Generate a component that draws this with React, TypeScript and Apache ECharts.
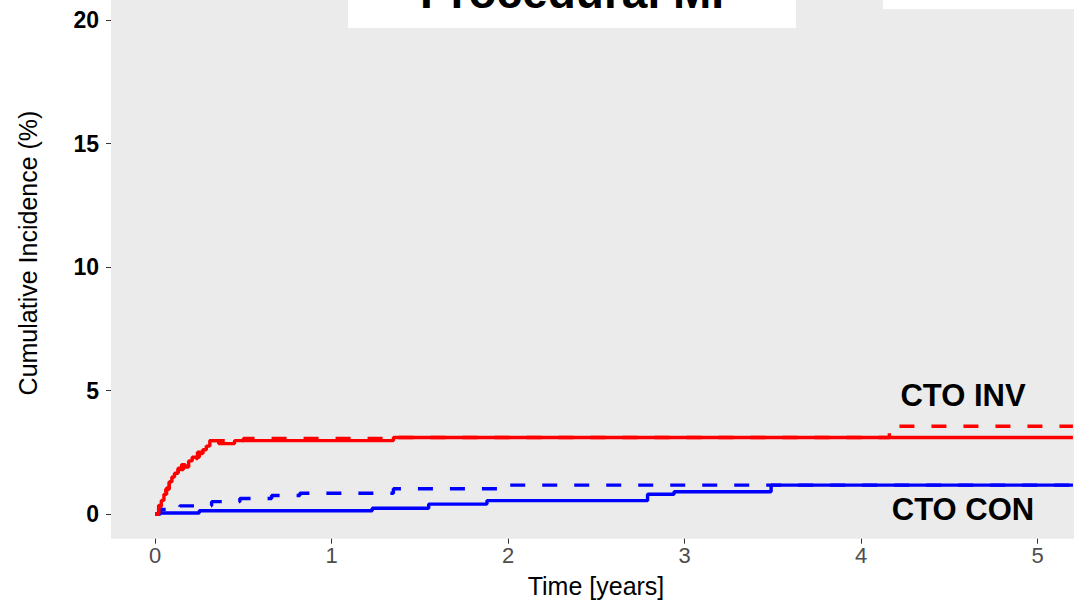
import React, { useEffect, useRef } from "react";
import * as echarts from "echarts";

// Time points (years) and cumulative incidence (%)
const invSolidT = [0, 0.02, 0.035, 0.05, 0.065, 0.08, 0.095, 0.11, 0.13, 0.15, 0.17, 0.19, 0.21, 0.23, 0.25, 0.27, 0.29, 0.31, 0.36, 0.45, 1.35, 5.2];
const invSolidV = [0, 0.3, 0.55, 0.8, 1.05, 1.3, 1.5, 1.65, 1.85, 2.0, 1.9, 2.15, 2.3, 2.3, 2.45, 2.6, 2.75, 2.97, 2.85, 2.97, 3.1, 3.1];

const invDashT = [0, 0.02, 0.04, 0.06, 0.08, 0.1, 0.13, 0.16, 0.2, 0.24, 0.28, 0.31, 0.5, 1.35, 4.16, 5.2];
const invDashV = [0, 0.35, 0.7, 1.0, 1.3, 1.55, 1.8, 2.0, 2.25, 2.5, 2.75, 2.97, 3.06, 3.1, 3.55, 3.55];

const conSolidT = [0, 0.02, 0.25, 1.23, 1.55, 1.88, 2.79, 2.94, 3.49, 5.2];
const conSolidV = [0, 0.04, 0.13, 0.23, 0.4, 0.54, 0.8, 0.9, 1.17, 1.17];

const conDashT = [0, 0.03, 0.14, 0.32, 0.48, 0.66, 0.82, 1.35, 2.0, 5.2];
const conDashV = [0, 0.18, 0.33, 0.5, 0.63, 0.75, 0.84, 1.02, 1.17, 1.17];

const xTicks = [0, 1, 2, 3, 4, 5];
const yTicks = [0, 5, 10, 15, 20];

const titleText = "Procedural MI";
const xTitle = "Time [years]";
const yTitle = "Cumulative Incidence (%)";
const labelInv = "CTO INV";
const labelCon = "CTO CON";

const FONT = "Liberation Sans, Arial, Helvetica, sans-serif";

const pairs = (t: number[], v: number[]) => t.map((x, i) => [x, v[i]]);

export default function App() {
  const ref = useRef<HTMLDivElement>(null);
  useEffect(() => {
    if (!ref.current) return;
    const chart = echarts.init(ref.current, null, { renderer: "svg" });

    const mkLine = (name: string, t: number[], v: number[], color: string, dashed: boolean) => ({
      name,
      type: "line",
      step: "end",
      showSymbol: false,
      symbol: "none",
      clip: false,
      data: pairs(t, v),
      lineStyle: { color, width: 3.4, type: dashed ? [15, 17] : "solid", cap: "butt" },
      z: 3,
    });

    chart.setOption({
      animation: false,
      textStyle: { fontFamily: FONT },
      grid: {
        left: 111,
        top: 0,
        width: 963,
        height: 538.7,
        containLabel: false,
        show: true,
        backgroundColor: "#EBEBEB",
        borderWidth: 0,
      },
      xAxis: {
        type: "value",
        min: -0.25,
        max: 5.206,
        axisLine: { show: false, onZero: false },
        axisTick: { show: true, length: 5, customValues: xTicks, lineStyle: { color: "#333333", width: 1 } },
        splitLine: { show: false },
        axisLabel: {
          margin: 6,
          fontSize: 22,
          color: "#4D4D4D",
          fontFamily: FONT,
          customValues: xTicks,
          formatter: (val: number) => (xTicks.includes(val) ? String(val) : ""),
        },
      },
      yAxis: {
        type: "value",
        min: -1,
        max: 20.81,
        axisLine: { show: false, onZero: false },
        axisTick: { show: true, length: 5, customValues: yTicks, lineStyle: { color: "#333333", width: 1 } },
        splitLine: { show: false },
        axisLabel: {
          margin: 12,
          fontSize: 23,
          fontWeight: "bold",
          color: "#000000",
          fontFamily: FONT,
          customValues: yTicks,
          formatter: (val: number) => (yTicks.includes(val) ? String(val) : ""),
        },
      },
      graphic: [
        { type: "rect", z: 10, shape: { x: 348, y: -30, width: 448, height: 58 }, style: { fill: "#FFFFFF" } },
        { type: "text", z: 11, x: 572, y: -8, style: { text: titleText, fontSize: 46, fontWeight: "bold", fontFamily: FONT, fill: "#000", align: "center", verticalAlign: "middle" } },
        { type: "rect", z: 10, shape: { x: 883, y: -30, width: 200, height: 39 }, style: { fill: "#FFFFFF" } },
        { type: "text", z: 11, x: 963, y: 395, style: { text: labelInv, fontSize: 31, fontWeight: "bold", fontFamily: FONT, fill: "#000", align: "center", verticalAlign: "middle" } },
        { type: "text", z: 11, x: 963, y: 509, style: { text: labelCon, fontSize: 31, fontWeight: "bold", fontFamily: FONT, fill: "#000", align: "center", verticalAlign: "middle" } },
        { type: "text", z: 11, x: 596, y: 586, style: { text: xTitle, fontSize: 25, fontFamily: FONT, fill: "#000", align: "center", verticalAlign: "middle" } },
        { type: "text", z: 11, x: 28, y: 253, rotation: Math.PI / 2, style: { text: yTitle, fontSize: 25, fontFamily: FONT, fill: "#000", align: "center", verticalAlign: "middle" } },
      ],
      series: [
        mkLine("CTO CON", conSolidT, conSolidV, "#0000FF", false),
        mkLine("CTO CON (dashed)", conDashT, conDashV, "#0000FF", true),
        mkLine("CTO INV", invSolidT, invSolidV, "#FF0000", false),
        mkLine("CTO INV (dashed)", invDashT, invDashV, "#FF0000", true),
      ],
    });
    return () => chart.dispose();
  }, []);
  return <div ref={ref} style={{ width: 1074, height: 606, position: "absolute", left: 0, top: 0 }} />;
}
